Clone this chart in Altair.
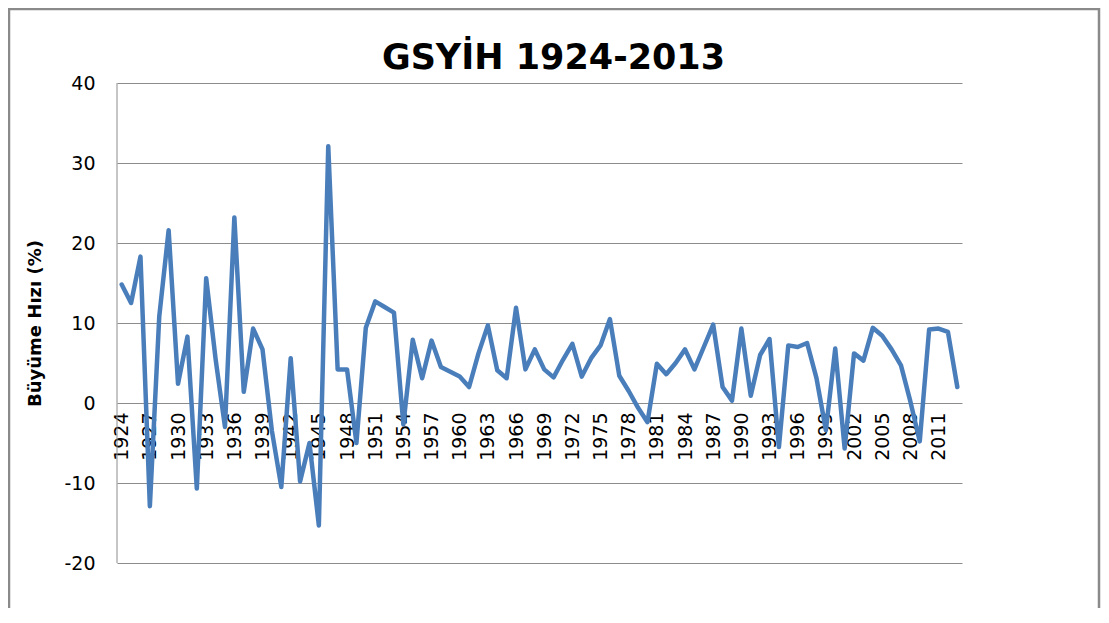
import altair as alt
import pandas as pd

years = list(range(1924, 2014))
growth = [
    14.8, 12.5, 18.3, -12.9, 10.8, 21.6, 2.4, 8.3, -10.7, 15.6,
    5.5, -3.0, 23.2, 1.4, 9.3, 6.7, -3.5, -10.5, 5.6, -9.8,
    -5.0, -15.3, 32.1, 4.2, 4.2, -5.0, 9.4, 12.7, 12.0, 11.3,
    -2.7, 7.9, 3.1, 7.8, 4.5, 3.9, 3.3, 2.0, 6.2, 9.7,
    4.1, 3.1, 11.9, 4.2, 6.7, 4.2, 3.2, 5.4, 7.4, 3.3,
    5.6, 7.2, 10.5, 3.4, 1.5, -0.6, -2.4, 4.9, 3.6, 5.0,
    6.7, 4.2, 7.0, 9.8, 2.0, 0.3, 9.3, 0.9, 6.0, 8.0,
    -5.5, 7.2, 7.0, 7.5, 3.1, -3.4, 6.8, -5.7, 6.2, 5.3,
    9.4, 8.4, 6.7, 4.7, 0.2, -4.8, 9.2, 9.3, 8.9, 2.0,
]
x_label_years = years[::3]
y_ticks = [-20, -10, 0, 10, 20, 30, 40]

df = pd.DataFrame({"year": years, "growth": growth})

GRAY = "#8c8c8c"
FONT = "DejaVu Sans"

line = alt.Chart(df).mark_line(
    color="#4a7ebb", strokeWidth=4.5, strokeJoin="round", strokeCap="round"
).encode(
    x=alt.X(
        "year:O",
        scale=alt.Scale(type="point", padding=0.5),
        axis=alt.Axis(
            values=x_label_years,
            labelAngle=270,
            labelAlign="right",
            labelBaseline="middle",
            labelPadding=9,
            labelFont=FONT,
            labelFontSize=19,
            labelColor="#000000",
            labelOverlap=False,
            ticks=False,
            grid=False,
            domain=False,
            offset=-160,
            title=None,
        ),
    ),
    y=alt.Y(
        "growth:Q",
        scale=alt.Scale(domain=[-20, 40], nice=False, zero=False),
        axis=alt.Axis(
            values=y_ticks,
            labelExpr="'' + datum.value",
            grid=True,
            gridColor=GRAY,
            gridWidth=1,
            domain=False,
            ticks=False,
            labelFont=FONT,
            labelFontSize=19,
            labelColor="#000000",
            labelPadding=22,
            title="Büyüme Hızı (%)",
            titleFont=FONT,
            titleFontSize=18,
            titleFontWeight="bold",
            titleColor="#000000",
            titleAngle=270,
            titleAlign="center",
            titleBaseline="middle",
            titleX=-82,
            titleY=240,
        ),
    ),
)

# left axis line of the plot area (decoration)
axis_line = alt.Chart(alt.Data(values=[{"a": 1}])).mark_rule(
    color=GRAY, strokeWidth=1
).encode(x=alt.value(0), y=alt.value(0), y2=alt.value(480))

# outer chart border (decoration)
border = alt.Chart(alt.Data(values=[{"a": 1}])).mark_rect(
    fill="transparent", stroke="#8a8a8a", strokeWidth=2.5
).encode(
    x=alt.value(-108), x2=alt.value(982), y=alt.value(-74), y2=alt.value(560)
)

chart = alt.layer(axis_line, line, border).properties(
    width=845,
    height=480,
    view=alt.ViewBackground(stroke="transparent", strokeWidth=0),
    title=alt.TitleParams(
        "GSYİH 1924-2013",
        font=FONT,
        fontSize=35,
        fontWeight="bold",
        color="#000000",
        anchor="middle",
        frame="group",
        baseline="alphabetic",
        offset=15,
        dx=14,
        dy=111,
    ),
    autosize=alt.AutoSizeParams(type="none"),
    padding={"left": 109, "top": 75, "right": 139, "bottom": 45},
).configure_view(stroke="transparent", strokeWidth=0).configure(
    background="#ffffff",
    style={"cell": {"stroke": "transparent", "strokeWidth": 0}},
)

chart.save("out.html", embed_options={"renderer": "svg", "actions": False})
